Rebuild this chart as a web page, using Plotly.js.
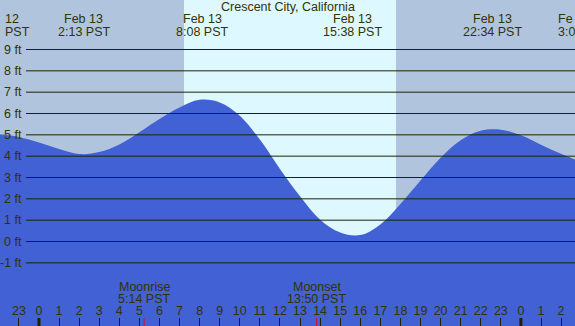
<!DOCTYPE html>
<html><head><meta charset="utf-8">
<script src="https://cdn.plot.ly/plotly-2.35.2.min.js"></script>
<style>html,body{margin:0;padding:0;background:#fff}#chart{width:575px;height:326px}</style>
</head><body><div id="chart"></div>
<script>
const hours  = [-2, -1, 0, 1, 2, 3, 4, 5, 6, 7, 8, 9, 10, 11, 12, 13, 14, 15, 16, 17, 18, 19, 20, 21, 22, 23, 24, 25, 26, 27];
const tideFt = [5.03, 4.90, 4.64, 4.34, 4.10, 4.19, 4.55, 5.12, 5.74, 6.28, 6.64, 6.52, 5.90, 4.78, 3.40, 2.12, 1.02, 0.42, 0.30, 0.80, 1.76, 2.86, 3.93, 4.75, 5.19, 5.24, 4.98, 4.54, 4.11, 3.72];

// Tide extreme labels (two lines each)
const eventHours = [2.22, 8.13, 15.63, 22.57];
const eventDate  = ['Feb 13', 'Feb 13', 'Feb 13', 'Feb 13'];
const eventTime  = ['2:13 PST', '8:08 PST', '15:38 PST', '22:34 PST'];
const edgeLeft   = ['12', 'PST'];
const edgeRight  = ['Fe', '3:0'];

// Sun
const sunrise = 7.22, sunset = 17.78;
// Moon
const moonHours = [5.23, 13.83];
const moonName  = ['Moonrise', 'Moonset'];
const moonTime  = ['5:14 PST', '13:50 PST'];
const midnights = [0, 24];

// Axes
const xRange = [-1.942, 26.693];
const yRange = [-3.96, 11.32];
const ftTicks = [-1, 0, 1, 2, 3, 4, 5, 6, 7, 8, 9];
const hourTicks = [-1, 0, 1, 2, 3, 4, 5, 6, 7, 8, 9, 10, 11, 12, 13, 14, 15, 16, 17, 18, 19, 20, 21, 22, 23, 24, 25, 26];
const hourText  = ['23', '0', '1', '2', '3', '4', '5', '6', '7', '8', '9', '10', '11', '12', '13', '14', '15', '16', '17', '18', '19', '20', '21', '22', '23', '0', '1', '2'];

const TXT = '#333300', GRID = '#222200';
const FONT = 'Liberation Sans, Arial, sans-serif';
const FS = 12.5;
const NIGHT = '#b0c4de', DAY = '#ddf8ff', WATER = '#4161d4';
const H = 326, W = 575;
const py = p => 1 - p / H;   // pixel row -> paper y

const base = {x: hours, y: hours.map(() => yRange[0]), mode: 'lines', line: {width: 0}, hoverinfo: 'skip', showlegend: false};
const tide = {x: hours, y: tideFt, mode: 'lines', line: {width: 0, shape: 'spline', smoothing: 1}, fill: 'tonexty', fillcolor: WATER, showlegend: false};

const shapes = [
  {type: 'rect', xref: 'x', yref: 'paper', x0: xRange[0], x1: sunrise, y0: 0, y1: 1, fillcolor: NIGHT, line: {width: 0}, layer: 'below'},
  {type: 'rect', xref: 'x', yref: 'paper', x0: sunrise, x1: sunset, y0: 0, y1: 1, fillcolor: DAY, line: {width: 0}, layer: 'below'},
  {type: 'rect', xref: 'x', yref: 'paper', x0: sunset, x1: xRange[1], y0: 0, y1: 1, fillcolor: NIGHT, line: {width: 0}, layer: 'below'}
];
ftTicks.forEach(v => shapes.push({type: 'line', xref: 'paper', yref: 'y', x0: 26/W, x1: 1, y0: v, y1: v, line: {color: GRID, width: 1}, layer: 'above'}));
midnights.forEach(v => shapes.push({type: 'line', xref: 'x', yref: 'paper', x0: v, x1: v, y0: 0, y1: 8/H, line: {color: GRID, width: 3}, layer: 'above'}));
moonHours.forEach(v => shapes.push({type: 'line', xref: 'x', yref: 'paper', x0: v, x1: v, y0: 0, y1: 8/H, line: {color: '#ff0000', width: 1}, layer: 'above'}));

const annotations = [];
const txt = (o) => Object.assign({showarrow: false, yanchor: 'middle', font: {family: FONT, size: FS, color: TXT}}, o);
ftTicks.forEach(v => annotations.push(txt({xref: 'paper', yref: 'y', x: 24/W, y: v, xanchor: 'right', text: v + ' ft'})));
eventHours.forEach((h, i) => {
  annotations.push(txt({xref: 'x', yref: 'paper', x: h, y: py(19.5), xanchor: 'center', text: eventDate[i]}));
  annotations.push(txt({xref: 'x', yref: 'paper', x: h, y: py(31.5), xanchor: 'center', text: eventTime[i]}));
});
annotations.push(txt({xref: 'paper', yref: 'paper', x: 3/W, y: py(19.5), xanchor: 'left', text: edgeLeft[0]}));
annotations.push(txt({xref: 'paper', yref: 'paper', x: 3/W, y: py(31.5), xanchor: 'left', text: edgeLeft[1]}));
annotations.push(txt({xref: 'paper', yref: 'paper', x: 556/W, y: py(19.5), xanchor: 'left', text: edgeRight[0]}));
annotations.push(txt({xref: 'paper', yref: 'paper', x: 556/W, y: py(31.5), xanchor: 'left', text: edgeRight[1]}));
moonHours.forEach((h, i) => {
  annotations.push(txt({xref: 'x', yref: 'paper', x: h, y: py(287), xanchor: 'center', text: moonName[i]}));
  annotations.push(txt({xref: 'x', yref: 'paper', x: h, y: py(298.5), xanchor: 'center', text: moonTime[i]}));
});
annotations.push(txt({xref: 'paper', yref: 'paper', x: 0.5, y: py(7.5), xanchor: 'center', text: 'Crescent City, California'}));

const layout = {
  width: W, height: H,
  margin: {l: 0, r: 0, t: 0, b: 0},
  paper_bgcolor: '#ffffff', plot_bgcolor: NIGHT,
  showlegend: false,
  xaxis: {range: xRange, showgrid: false, zeroline: false, showline: false,
    tickmode: 'array', tickvals: hourTicks, ticktext: hourText,
    ticks: 'inside', ticklen: 8, tickwidth: 1, tickcolor: GRID,
    ticklabelposition: 'inside', tickfont: {family: FONT, size: FS, color: TXT},
    layer: 'above traces', fixedrange: true},
  yaxis: {range: yRange, showgrid: false, zeroline: false, showline: false, showticklabels: false, ticks: '', fixedrange: true},
  shapes: shapes,
  annotations: annotations
};

Plotly.newPlot('chart', [base, tide], layout, {displayModeBar: false, staticPlot: true});
</script>
</body></html>
